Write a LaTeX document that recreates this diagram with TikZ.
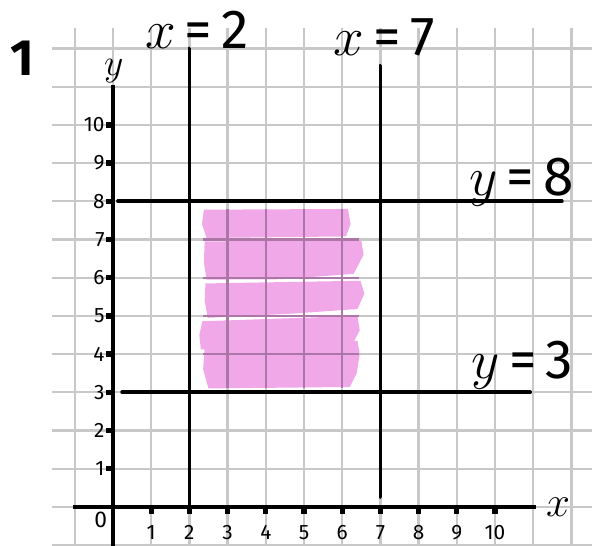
\RequirePackage{fix-cm}
\documentclass[tikz,border=0pt]{standalone}
\usepackage{fontspec}
\setmainfont{Fira Sans}
\usepackage{tikz}
\usetikzlibrary{positioning, calc}
\definecolor{gridgray}{RGB}{200,200,200}
\definecolor{gridink}{RGB}{172,118,166}
\definecolor{pinkink}{RGB}{240,168,232}
\tikzset{
    gridline/.style={gridgray, line width=1.7pt},
    axisline/.style={black, line width=3.4pt},
    boundline/.style={black, line width=2.8pt, line cap=round},
    ticklabel/.style={font=\fontsize{15.5}{15.5}\selectfont, inner sep=1pt},
    handlabel/.style={font=\fontsize{41}{41}\selectfont, inner sep=0pt},
}

\begin{document}
\begin{tikzpicture}[x=1cm, y=1cm]
    \useasboundingbox (-2.958,-1.02) rectangle (12.54,13.27);

    % Shaded region (marker strokes)
    \fill[pinkink] (2.38,7.78) -- (6.15,7.80) -- (6.22,7.40) -- (6.10,7.08) -- (2.45,7.04) -- (2.33,7.40) -- cycle;
    \fill[pinkink] (2.40,6.95) -- (6.50,6.98) -- (6.56,6.60) -- (6.30,6.10) -- (4.40,5.96) -- (2.45,5.95) -- (2.38,6.40) -- cycle;
    \fill[pinkink] (2.42,5.85) -- (6.48,5.92) -- (6.58,5.58) -- (6.40,5.18) -- (4.70,5.06) -- (2.48,4.95) -- (2.40,5.40) -- cycle;
    \fill[pinkink] (2.34,4.86) -- (6.40,5.00) -- (6.46,4.62) -- (6.30,4.32) -- (4.50,4.20) -- (2.30,4.12) -- (2.26,4.50) -- cycle;
    \fill[pinkink] (2.40,4.20) -- (4.60,4.28) -- (6.40,4.35) -- (6.46,4.00) -- (6.38,3.50) -- (6.20,3.14) -- (2.50,3.10) -- (2.36,3.60) -- cycle;

    % Squared paper, over the ink
    \foreach \i in {-1,...,12}
        \draw[gridline] (\i,-1.02) -- (\i,12.54);
    \foreach \j in {-1,...,12}
        \draw[gridline] (-1.6,\j) -- (12.54,\j);

    % Grid tinted where it crosses the ink
    \foreach \i in {3,...,6}
        \draw[gridline, gridink] (\i,3.12) -- (\i,7.79);
    \foreach \j in {4,...,7}
        \draw[gridline, gridink] (2.36,\j) -- (6.44,\j);

    % Axes
    \draw[axisline] (-1.05,0) -- (11.07,0);
    \draw[axisline] (0,-1.02) -- (0,11.05);

    % Ticks and their numbers
    \foreach \k in {1,...,10} {
        \fill (\k-0.07,0) rectangle (\k+0.07,-0.18);
        \node[ticklabel] (xt\k) at (\k,-0.68) {\k};
        \fill (0,\k-0.07) rectangle (-0.18,\k+0.07);
        \node[ticklabel, anchor=east] (yt\k) at (-0.18,\k) {\k};
    }
    \node[ticklabel, font=\fontsize{17}{17}\selectfont] (origin) at (-0.32,-0.34) {0};

    % Axis names
    \node[font=\fontsize{32}{32}\selectfont, inner sep=0pt] (xname) at (11.65,-0.02) {$x$};
    \node[font=\fontsize{28}{28}\selectfont, inner sep=0pt] (yname) at (0.02,11.42) {$y$};

    % Boundary lines
    \draw[boundline] (2,12.0) -- (2,0);
    \draw[boundline] (7,11.55) -- (7,0.26);
    \draw[boundline] (0.13,8) -- (11.75,8);
    \draw[boundline] (0.24,3) -- (10.92,3);

    % Handwritten equations
    \node[handlabel] (xtwo) at (2.2,12.5) {$x$\,=\,2};
    \node[handlabel] (xseven) at (7.1,12.28) {$x$\,=\,7};
    \node[handlabel] (yeight) at (10.7,8.5) {$y$\,=\,8};
    \node[handlabel] (ythree) at (10.72,3.7) {$y$\,=\,3};

    % Question number
    \node[font=\fontsize{38}{38}\bfseries\selectfont, inner sep=0pt] (qnum) at (-2.38,11.75) {1};

\end{tikzpicture}
\end{document}
